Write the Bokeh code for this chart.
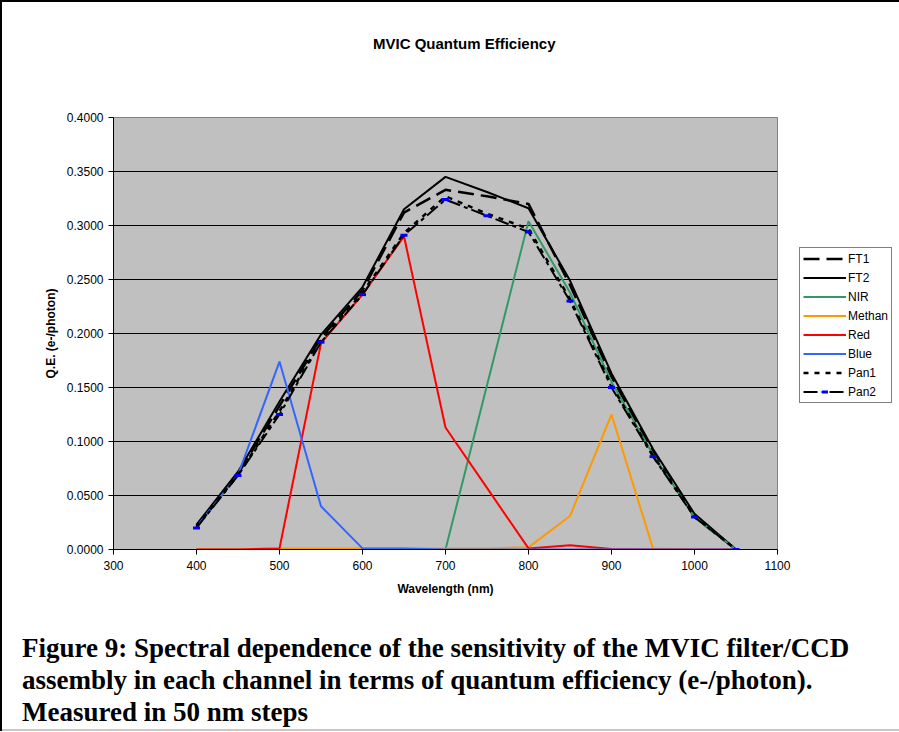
from bokeh.plotting import figure
from bokeh.models import Legend, LegendItem, Div, FixedTicker, NumeralTickFormatter, Range1d
from bokeh.layouts import column
from bokeh.embed import file_html
from bokeh.resources import INLINE

# ---- data ----
wavelength = [400, 450, 500, 550, 600, 650, 700, 750, 800, 850, 900, 950, 1000, 1050]
ft1 = [0.022, 0.070, 0.133, 0.196, 0.240, 0.312, 0.333, 0.327, 0.320, 0.245, 0.160, 0.090, 0.030, 0.000]
ft2 = [0.023, 0.072, 0.137, 0.199, 0.243, 0.315, 0.345, 0.331, 0.316, 0.249, 0.163, 0.093, 0.033, 0.000]
nir = [0.000, 0.000, 0.000, 0.000, 0.000, 0.000, 0.000, 0.152, 0.304, 0.238, 0.155, 0.088, 0.030, 0.000]
methan = [0.000, 0.000, 0.001, 0.001, 0.001, 0.001, 0.001, 0.001, 0.002, 0.031, 0.125, 0.001, 0.000, 0.000]
red = [0.000, 0.000, 0.001, 0.191, 0.236, 0.290, 0.113, 0.057, 0.001, 0.004, 0.0005, 0.000, 0.000, 0.000]
blue = [0.021, 0.069, 0.174, 0.040, 0.001, 0.001, 0.000, 0.000, 0.000, 0.000, 0.000, 0.000, 0.000, 0.000]
pan1 = [0.021, 0.069, 0.128, 0.193, 0.238, 0.293, 0.327, 0.311, 0.297, 0.232, 0.152, 0.087, 0.031, 0.000]
pan2 = [0.020, 0.0685, 0.125, 0.192, 0.236, 0.291, 0.324, 0.309, 0.294, 0.230, 0.150, 0.086, 0.030, 0.000]

x_ticks = [300, 400, 500, 600, 700, 800, 900, 1000, 1100]
y_ticks = [0.0, 0.05, 0.10, 0.15, 0.20, 0.25, 0.30, 0.35, 0.40]

title_text = "MVIC Quantum Efficiency"
x_label = "Wavelength (nm)"
y_label = "Q.E. (e-/photon)"
caption_lines = [
    "Figure 9: Spectral dependence of the sensitivity of the MVIC filter/CCD",
    "assembly in each channel in terms of quantum efficiency (e-/photon).",
    "Measured in 50 nm steps",
]

FONT = "Liberation Sans"

title_div = Div(
    text=(
        '<div style="font-family: \'Liberation Sans\', Arial, sans-serif; font-weight: bold; '
        'font-size: 15px; line-height: 18px; color: black; padding: 35px 0 0 373px; '
        'white-space: nowrap;">' + title_text + "</div>"
    ),
    width=895, height=60, margin=0,
)

p = figure(
    frame_width=664, frame_height=432,
    min_border_left=113, min_border_right=118, min_border_top=57, min_border_bottom=71,
    x_range=Range1d(300, 1100), y_range=Range1d(0, 0.4),
    output_backend="svg", toolbar_location=None,
)

p.background_fill_color = "#C0C0C0"
p.border_fill_alpha = 0.0
p.outline_line_color = "#808080"
p.outline_line_width = 1

p.xgrid.visible = False
p.ygrid.grid_line_color = "black"
p.ygrid.grid_line_alpha = 1.0
p.ygrid.grid_line_width = 1

p.xaxis.ticker = FixedTicker(ticks=x_ticks)
p.yaxis.ticker = FixedTicker(ticks=y_ticks)
p.yaxis.formatter = NumeralTickFormatter(format="0.0000")

for ax in (p.xaxis[0], p.yaxis[0]):
    ax.axis_line_color = "black"
    ax.major_tick_line_color = "black"
    ax.major_tick_out = 5
    ax.major_tick_in = 0
    ax.minor_tick_out = 0
    ax.minor_tick_in = 0
    ax.major_label_text_font = FONT
    ax.major_label_text_font_size = "12px"
    ax.major_label_text_color = "black"
    ax.axis_label_text_font = FONT
    ax.axis_label_text_font_size = "12px"
    ax.axis_label_text_font_style = "bold"
    ax.axis_label_text_color = "black"

p.xaxis.axis_label = x_label
p.xaxis.major_label_standoff = 6
p.xaxis.axis_label_standoff = 9
p.yaxis.axis_label = y_label
p.yaxis.major_label_standoff = 5
p.yaxis.axis_label_standoff = 6

r_ft1 = p.line(wavelength, ft1, line_color="black", line_width=2.5, line_dash="16 7")
r_ft2 = p.line(wavelength, ft2, line_color="black", line_width=2)
r_nir = p.line(wavelength, nir, line_color="#339966", line_width=2)
r_met = p.line(wavelength, methan, line_color="#FF9900", line_width=2)
r_red = p.line(wavelength, red, line_color="#FF0000", line_width=2)
r_blue = p.line(wavelength, blue, line_color="#3366FF", line_width=2)
r_pan1 = p.line(wavelength, pan1, line_color="black", line_width=2.5, line_dash="5 6")
r_pan2 = p.line(wavelength, pan2, line_color="black", line_width=2, line_dash="14 4 4 4")
r_pan2m = p.scatter(wavelength, pan2, marker="dash", size=7, line_color="#0000FF", line_width=3)

legend = Legend(
    items=[
        LegendItem(label="FT1", renderers=[r_ft1]),
        LegendItem(label="FT2", renderers=[r_ft2]),
        LegendItem(label="NIR", renderers=[r_nir]),
        LegendItem(label="Methan", renderers=[r_met]),
        LegendItem(label="Red", renderers=[r_red]),
        LegendItem(label="Blue", renderers=[r_blue]),
        LegendItem(label="Pan1", renderers=[r_pan1]),
        LegendItem(label="Pan2", renderers=[r_pan2, r_pan2m]),
    ],
    location=(22, 146),
    glyph_width=43, glyph_height=15, label_height=15, spacing=4,
    padding=3, margin=0, label_standoff=2,
    label_text_font=FONT, label_text_font_size="12px", label_text_color="black",
    border_line_color="black", border_line_width=1,
    background_fill_color="white", background_fill_alpha=1.0,
)
p.add_layout(legend, "right")

caption_html = (
    '<div style="font-family: \'Liberation Serif\', \'Times New Roman\', serif; '
    'font-weight: bold; font-size: 27px; line-height: 32px; color: black; '
    'padding: 12px 0 0 22px; white-space: nowrap;">'
    + "<br>".join(caption_lines) + "</div>"
)
cap = Div(text=caption_html, width=895, height=111, margin=0)

layout = column(
    title_div, p, cap, spacing=0,
    styles={
        "background-color": "white",
        "box-shadow": "inset 2px 2px 0 #000000, inset 0 -2px 0 #c8c8c8",
    },
)
open("out.html", "w").write(file_html(layout, INLINE))
